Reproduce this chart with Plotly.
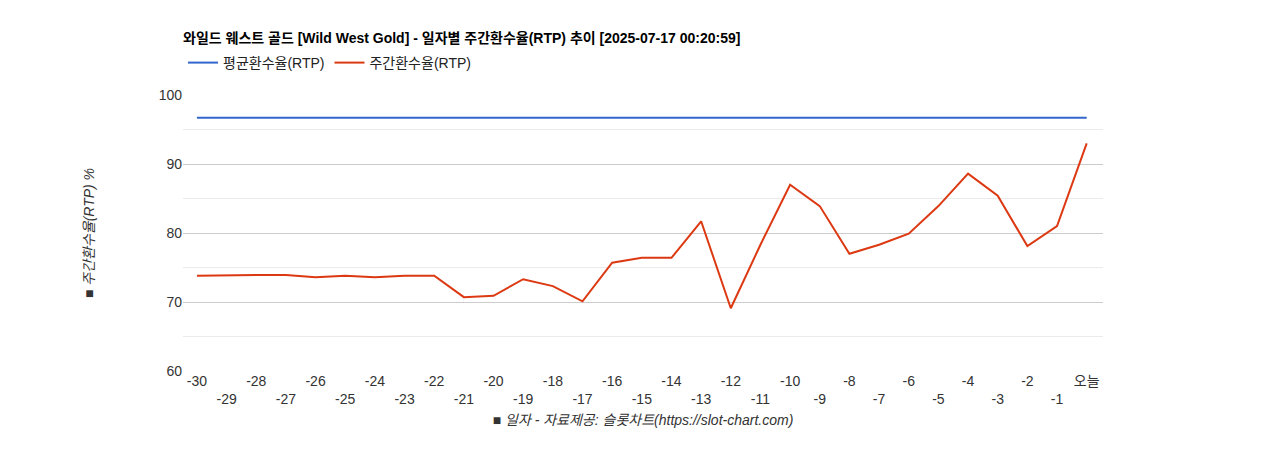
import plotly.graph_objects as go

days = list(range(-30, 1))
day_labels = [("오늘" if d == 0 else str(d)) for d in days]
rtp = [73.8, 73.9, 73.9, 73.9, 73.6, 73.8, 73.6, 73.8, 73.8, 70.7, 70.9, 73.3, 72.3, 70.1,
       75.7, 76.4, 76.4, 81.7, 69.1, 78.3, 87.0, 83.9, 77.0, 78.3, 79.9, 83.9, 88.6, 85.4,
       78.1, 81.0, 93.0]
avg_rtp = 96.7

# alternate tick rows like the original
ticktext = [lbl if i % 2 == 0 else "<br>" + lbl for i, lbl in enumerate(day_labels)]

fig = go.Figure()
fig.add_trace(go.Scatter(x=days, y=[avg_rtp] * len(days), mode="lines", name="평균환수율(RTP)",
                         line=dict(color="#3366cc", width=2)))
fig.add_trace(go.Scatter(x=days, y=rtp, mode="lines", name="주간환수율(RTP)",
                         line=dict(color="#dc3912", width=2)))

fig.update_layout(
    width=1268, height=450, plot_bgcolor="white", paper_bgcolor="white",
    font=dict(family="Liberation Sans, Noto Sans CJK KR", size=14, color="#222"),
    margin=dict(l=175, r=173, t=87, b=87, autoexpand=False),
    title=dict(text="<b>와일드 웨스트 골드 [Wild West Gold] - 일자별 주간환수율(RTP) 추이 [2025-07-17 00:20:59]</b>",
               x=175 / 1268, xanchor="left", y=1 - 30 / 450, yanchor="middle",
               font=dict(size=14, color="#000")),
    legend=dict(orientation="h", x=0, xanchor="left", y=1 + 32 / 276, yanchor="middle",
                font=dict(size=14), itemwidth=30, bgcolor="rgba(0,0,0,0)"),
    showlegend=True,
    xaxis=dict(tickvals=days, ticktext=ticktext, range=[-30.47, 0.55], showgrid=False,
               zeroline=False, tickfont=dict(size=14, color="#333"),
               title=dict(text="<i>■ 일자 - 자료제공: 슬롯차트(https://slot-chart.com)</i>",
                          font=dict(size=14, color="#333"), standoff=8)),
    yaxis=dict(range=[60, 100], tickvals=[60, 70, 80, 90, 100], gridcolor="#cccccc",
               zeroline=False, tickfont=dict(size=14, color="#333"),
               minor=dict(tickvals=[65, 75, 85, 95], showgrid=True, gridcolor="#ebebeb"),
               title=dict(text="<i>■ 주간환수율(RTP) %</i>", font=dict(size=14, color="#333"), standoff=60)),
)
fig.write_html("out.html")
